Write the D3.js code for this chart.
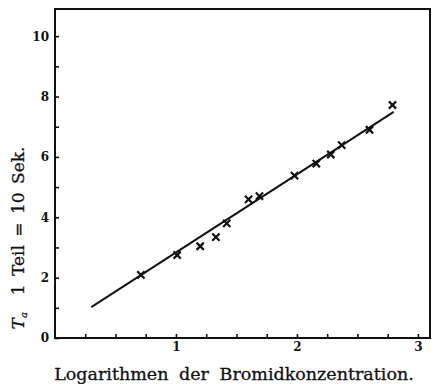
<!DOCTYPE html>
<html>
<head>
<meta charset="utf-8">
<script src="https://cdn.jsdelivr.net/npm/d3@7"></script>
<style>
  html, body { margin: 0; padding: 0; background: #fff; }
  svg { display: block; }
  text { font-family: "DejaVu Serif", serif; fill: #111; }
</style>
</head>
<body>
<div id="chart"></div>
<script>
// Measured points: log of bromide concentration vs. T_a (1 unit = 10 s)
const logConc = [0.71, 1.01, 1.20, 1.33, 1.42, 1.60, 1.69, 1.98, 2.16, 2.28, 2.37, 2.60, 2.79];
const tA      = [2.09, 2.75, 3.04, 3.34, 3.80, 4.59, 4.70, 5.38, 5.78, 6.08, 6.39, 6.90, 7.72];

// Straight line drawn through the points
const fitX = [0.30, 2.80];
const fitY = [1.02, 7.49];

// Axis ticks and labels
const xTicks = [0.25, 0.5, 0.75, 1, 1.25, 1.5, 1.75, 2, 2.25, 2.5, 2.75, 3];
const xLabels = {1: "1", 2: "2", 3: "3"};
const yTicks = [1, 2, 3, 4, 5, 6, 7, 8, 9, 10];
const yLabels = {0: "0", 2: "2", 4: "4", 6: "6", 8: "8", 10: "10"};

const W = 440, H = 384;
const m = { left: 55, right: 430, top: 9, bottom: 338 };

const svg = d3.select("#chart").append("svg")
  .attr("width", W).attr("height", H);

const x = d3.scaleLinear().domain([0, 3.1]).range([m.left, m.right]);
const y = d3.scaleLinear().domain([0, 10.9]).range([m.bottom, m.top]);

// frame
svg.append("rect")
  .attr("x", m.left).attr("y", m.top)
  .attr("width", m.right - m.left).attr("height", m.bottom - m.top)
  .attr("fill", "none").attr("stroke", "#111").attr("stroke-width", 2);

// bottom axis, ticks pointing inward
const xAxis = d3.axisBottom(x)
  .tickValues(xTicks)
  .tickSize(-4)
  .tickPadding(4)
  .tickFormat(d => xLabels[d] || "");
const gx = svg.append("g").attr("transform", `translate(0,${m.bottom})`).call(xAxis);
gx.select(".domain").remove();
gx.selectAll(".tick line").attr("stroke", "#111").attr("stroke-width", 1.6);
gx.selectAll(".tick text")
  .style("font-family", "'DejaVu Serif', serif")
  .attr("font-weight", "bold").attr("font-size", 12).attr("fill", "#111");

// left axis, ticks pointing inward
const yAxis = d3.axisLeft(y)
  .tickValues([0].concat(yTicks))
  .tickSize(-4)
  .tickPadding(6)
  .tickFormat(d => yLabels[d] || "");
const gy = svg.append("g").attr("transform", `translate(${m.left},0)`).call(yAxis);
gy.select(".domain").remove();
gy.selectAll(".tick line").attr("stroke", "#111").attr("stroke-width", 1.6);
gy.selectAll(".tick text")
  .style("font-family", "'DejaVu Serif', serif")
  .attr("font-weight", "bold").attr("font-size", 12).attr("fill", "#111");

// fitted line
const fit = fitX.map((v, i) => [v, fitY[i]]);
svg.append("path")
  .datum(fit)
  .attr("d", d3.line().x(d => x(d[0])).y(d => y(d[1])))
  .attr("fill", "none").attr("stroke", "#111").attr("stroke-width", 2);

// point markers (crosses)
const cross = d3.symbol().type(d3.symbolTimes).size(36);
svg.append("g").selectAll("path")
  .data(logConc.map((v, i) => [v, tA[i]]))
  .join("path")
  .attr("transform", d => `translate(${x(d[0])},${y(d[1])})`)
  .attr("d", cross)
  .attr("fill", "none").attr("stroke", "#111").attr("stroke-width", 2.2);

// axis titles
svg.append("text")
  .attr("x", 234).attr("y", 380)
  .attr("text-anchor", "middle")
  .style("font-family", "'DejaVu Serif', serif")
  .attr("font-size", 17.5)
  .attr("word-spacing", 5)
  .attr("stroke", "#111").attr("stroke-width", 0.3)
  .text("Logarithmen der Bromidkonzentration.");

const yt = svg.append("text")
  .attr("transform", "translate(24,238) rotate(-90)")
  .attr("text-anchor", "middle")
  .style("font-family", "'DejaVu Serif', serif")
  .attr("font-size", 17)
  .attr("word-spacing", 3)
  .attr("stroke", "#111").attr("stroke-width", 0.3);
yt.append("tspan").attr("font-style", "italic").text("T");
yt.append("tspan").attr("font-style", "italic").attr("font-size", 10).attr("dy", 3).text("a");
yt.append("tspan").attr("dy", -3).text("\u2002 1 Teil = 10 Sek.");
</script>
</body>
</html>
